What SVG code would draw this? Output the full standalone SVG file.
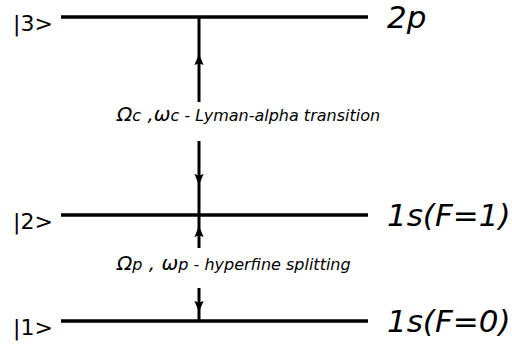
<svg xmlns="http://www.w3.org/2000/svg" width="512" height="345" viewBox="0 0 512 345">
<style>
.lvl{stroke:#000;stroke-width:3.5;fill:none}
.cn{stroke:#000;stroke-width:3;fill:none}
.ket{font-family:"DejaVu Sans",sans-serif;font-size:22px;fill:#000}
.st{font-family:"DejaVu Sans",sans-serif;font-style:italic;font-size:31px;fill:#000}
.lab{font-family:"DejaVu Sans",sans-serif;font-style:italic;fill:#000}
.big{font-size:20px}
.sm{font-size:16px}
.up{font-style:normal}
</style>
<defs>
<marker id="ah" viewBox="0 0 12 10" refX="11" refY="5" markerUnits="userSpaceOnUse" markerWidth="11" markerHeight="10" orient="auto">
<path d="M0,0 L12,5 L0,10 L2,5 Z" fill="#000"/>
</marker>
</defs>
<rect width="512" height="345" fill="#fff"/>
<g id="level3">
<line class="lvl" x1="61" y1="17" x2="368" y2="17"/>
<text class="ket" x="13" y="31">|3&gt;</text>
<text class="st" x="387" y="28">2p</text>
</g>
<g id="level2">
<line class="lvl" x1="61" y1="215" x2="368" y2="215"/>
<text class="ket" x="13" y="229">|2&gt;</text>
<text class="st" x="387" y="226">1s(F=1)</text>
</g>
<g id="level1">
<line class="lvl" x1="61" y1="321" x2="368" y2="321"/>
<text class="ket" x="13" y="335">|1&gt;</text>
<text class="st" x="387" y="332">1s(F=0)</text>
</g>
<g id="connectors">
<path class="cn" d="M199,102 L199,55 L199,17" marker-mid="url(#ah)"/>
<path class="cn" d="M199,141 L199,184 L199,215" marker-mid="url(#ah)"/>
<path class="cn" d="M199,248 L199,227 L199,215" marker-mid="url(#ah)"/>
<path class="cn" d="M199,288 L199,311 L199,321" marker-mid="url(#ah)"/>
</g>
<g id="label-c">
<text class="lab" x="117" y="121"><tspan class="big">Ω</tspan><tspan class="sm">c</tspan><tspan class="big"> ,ω</tspan><tspan class="sm">c</tspan><tspan class="sm up"> - </tspan><tspan class="sm">Lyman-alpha transition</tspan></text>
</g>
<g id="label-p">
<text class="lab" x="117" y="270"><tspan class="big">Ω</tspan><tspan class="sm">p</tspan><tspan class="big"> ,  ω</tspan><tspan class="sm">p</tspan><tspan class="sm up"> - </tspan><tspan class="sm">hyperfine splitting</tspan></text>
</g>
</svg>
